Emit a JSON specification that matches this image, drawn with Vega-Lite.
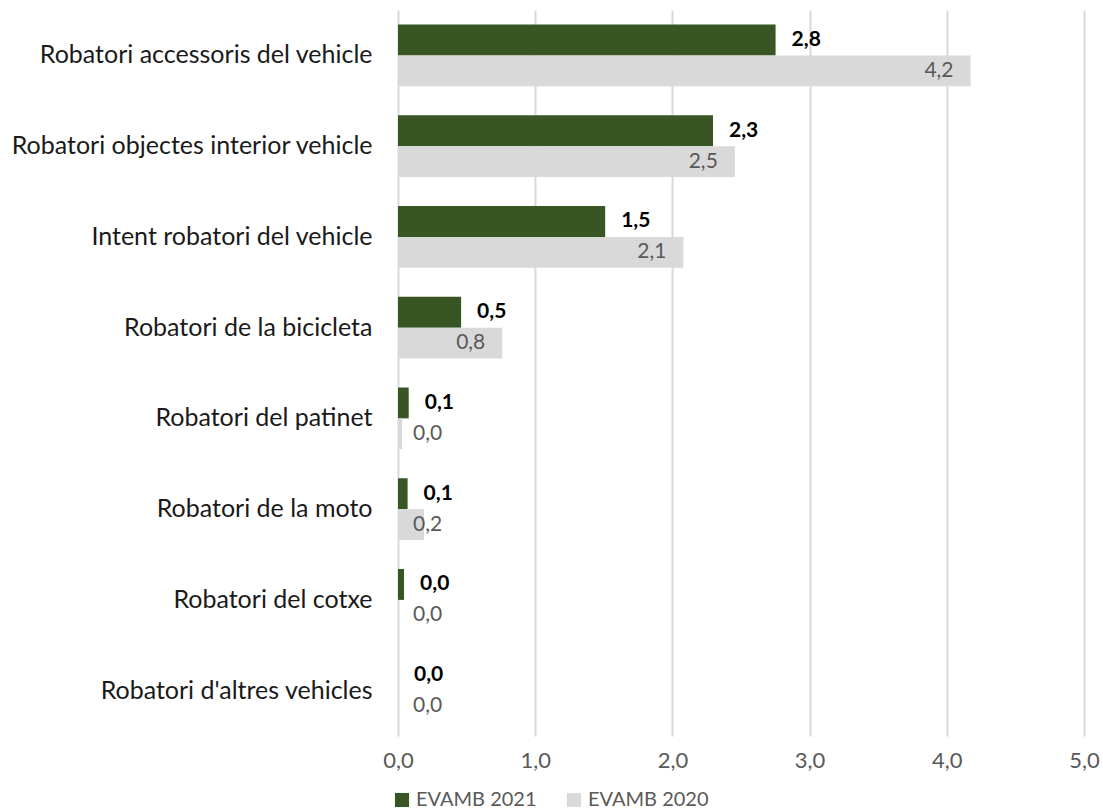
{
  "$schema": "https://vega.github.io/schema/vega-lite/v6.json",
  "width": 686,
  "height": 726,
  "autosize": "none",
  "padding": {"left": 398, "top": 10, "right": 19, "bottom": 76},
  "config": {
    "locale": {"number": {"decimal": ",", "thousands": ".", "grouping": [3], "currency": ["", " €"]}},
    "view": {"stroke": null},
    "font": "Lato"
  },
  "data": {
    "values": [
      {"cat": "Robatori accessoris del vehicle", "serie": "EVAMB 2021", "valor": 2.752},
      {"cat": "Robatori accessoris del vehicle", "serie": "EVAMB 2020", "valor": 4.173},
      {"cat": "Robatori objectes interior vehicle", "serie": "EVAMB 2021", "valor": 2.296},
      {"cat": "Robatori objectes interior vehicle", "serie": "EVAMB 2020", "valor": 2.455},
      {"cat": "Intent robatori del vehicle", "serie": "EVAMB 2021", "valor": 1.51},
      {"cat": "Intent robatori del vehicle", "serie": "EVAMB 2020", "valor": 2.08},
      {"cat": "Robatori de la bicicleta", "serie": "EVAMB 2021", "valor": 0.46},
      {"cat": "Robatori de la bicicleta", "serie": "EVAMB 2020", "valor": 0.76},
      {"cat": "Robatori del patinet ", "serie": "EVAMB 2021", "valor": 0.078},
      {"cat": "Robatori del patinet ", "serie": "EVAMB 2020", "valor": 0.03},
      {"cat": "Robatori de la moto", "serie": "EVAMB 2021", "valor": 0.07},
      {"cat": "Robatori de la moto", "serie": "EVAMB 2020", "valor": 0.19},
      {"cat": "Robatori del cotxe", "serie": "EVAMB 2021", "valor": 0.044},
      {"cat": "Robatori del cotxe", "serie": "EVAMB 2020", "valor": 0.007},
      {"cat": "Robatori d'altres vehicles", "serie": "EVAMB 2021", "valor": 0.0},
      {"cat": "Robatori d'altres vehicles", "serie": "EVAMB 2020", "valor": 0.002}
    ]
  },
  "encoding": {
    "y": {
      "field": "cat", "type": "nominal", "sort": null,
      "scale": {"paddingInner": 0.32, "paddingOuter": 0.16},
      "axis": {"title": null, "domain": false, "ticks": false, "labelFontSize": 25, "labelColor": "#1a1a1a", "labelPadding": 26, "labelLimit": 420}
    },
    "yOffset": {
      "field": "serie", "type": "nominal",
      "sort": ["EVAMB 2021", "EVAMB 2020"],
      "scale": {"paddingInner": 0}
    }
  },
  "layer": [
    {
      "mark": {"type": "bar"},
      "encoding": {
        "x": {
          "field": "valor", "type": "quantitative",
          "scale": {"domain": [0, 5], "nice": false},
          "axis": {"title": null, "values": [0, 1, 2, 3, 4, 5], "format": ".1f", "grid": true, "gridColor": "#d9d9d9", "gridWidth": 2, "domain": false, "ticks": false, "labelFlush": false, "labelFontSize": 22, "labelColor": "#595959", "labelPadding": 14}
        },
        "color": {
          "field": "serie", "type": "nominal",
          "scale": {"domain": ["EVAMB 2021", "EVAMB 2020"], "range": ["#375623", "#d9d9d9"]},
          "legend": {"title": null, "orient": "none", "direction": "horizontal", "legendX": -6, "legendY": 780, "symbolType": "square", "symbolSize": 200, "symbolStrokeWidth": 0, "labelFontSize": 20, "labelColor": "#595959", "columnPadding": 27, "padding": 0}
        }
      }
    },
    {
      "transform": [{"filter": "datum.serie === 'EVAMB 2021'"}],
      "mark": {"type": "text", "align": "left", "baseline": "middle", "dx": 16, "fontWeight": "bold", "fontSize": 21, "color": "#000000"},
      "encoding": {
        "x": {"field": "valor", "type": "quantitative"},
        "text": {"field": "valor", "type": "quantitative", "format": ".1f"}
      }
    },
    {
      "transform": [{"filter": "datum.serie === 'EVAMB 2020' && datum.valor >= 0.3"}],
      "mark": {"type": "text", "align": "right", "baseline": "middle", "dx": -17, "fontSize": 21, "color": "#595959"},
      "encoding": {
        "x": {"field": "valor", "type": "quantitative"},
        "text": {"field": "valor", "type": "quantitative", "format": ".1f"}
      }
    },
    {
      "transform": [{"filter": "datum.serie === 'EVAMB 2020' && datum.valor < 0.3"}],
      "mark": {"type": "text", "align": "left", "baseline": "middle", "dx": 15, "fontSize": 21, "color": "#595959"},
      "encoding": {
        "x": {"datum": 0, "type": "quantitative"},
        "text": {"field": "valor", "type": "quantitative", "format": ".1f"}
      }
    }
  ]
}
